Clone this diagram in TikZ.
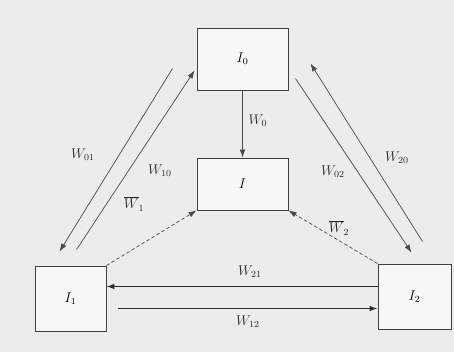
\documentclass[tikz,border=0pt]{standalone}
\usepackage{tikz}
\usetikzlibrary{positioning, arrows.meta, calc}
\definecolor{ink}{HTML}{2a2a2a}
\definecolor{paper}{HTML}{ececec}

\begin{document}
\begin{tikzpicture}[x=0.03cm, y=-0.03cm, font=\large,
  blk/.style={draw=ink!90, line width=0.8pt, fill=paper!40!white, inner sep=0pt},
  lbl/.style={text=ink, inner sep=1pt},
  flow/.style={-{Latex[length=2.4mm, width=1.7mm]}, ink!85, line width=0.6pt},
  hflow/.style={flow, ink, line width=1.1pt},
  dflow/.style={flow, densely dashed}
]
  % background of the scan
  \fill[paper] (0,0) rectangle (454,352);
  \useasboundingbox (0,0) rectangle (454,352);

  % states
  \node[blk, minimum width=2.73cm, minimum height=1.86cm] (i0) at (242.5,59) {$I_0$};
  \node[blk, minimum width=2.73cm, minimum height=1.56cm] (ii) at (242.5,184) {$I$};
  \node[blk, minimum width=2.13cm, minimum height=1.95cm] (i1) at (70.5,298.5) {$I_1$};
  \node[blk, minimum width=2.19cm, minimum height=1.95cm] (i2) at (414.5,296.5) {$I_2$};

  % transitions
  \draw[flow] (i0) -- (ii);
  \draw[flow] ($(i0.south west)+(-24,-22)$) -- ($(i1.north west)+(25,-14)$);
  \draw[flow] ($(i1.north west)+(42,-16)$) -- ($(i0.south west)+(-2,-20)$);
  \draw[flow] ($(i0.south east)+(7,-12)$) -- ($(i2.north west)+(34,-11)$);
  \draw[flow] ($(i2.north west)+(45,-22)$) -- ($(i0.south east)+(22,-27)$);
  \draw[dflow] (i1.north east) -- (ii.south west);
  \draw[dflow] (i2.north west) -- (ii.south east);
  \coordinate (a21) at ($(i2.west)+(0,-10)$);
  \draw[hflow] (a21) -- (a21 -| i1.east);
  \coordinate (a12) at ($(i1.east)+(12,10)$);
  \draw[hflow] (a12) -- (a12 -| i2.west);

  % labels
  \node[lbl] (l0) at (258,121) {$W_0$};
  \node[lbl] (l01) at (83,155) {$W_{01}$};
  \node[lbl] (l10) at (160,171) {$W_{10}$};
  \node[lbl] (l1) at (134,204) {$\overline{W}_1$};
  \node[lbl] (l02) at (333,172) {$W_{02}$};
  \node[lbl] (l20) at (397,158) {$W_{20}$};
  \node[lbl] (l2) at (339,228) {$\overline{W}_2$};
  \node[lbl] (l21) at (250,272) {$W_{21}$};
  \node[lbl] (l12) at (248,322) {$W_{12}$};
\end{tikzpicture}
\end{document}
